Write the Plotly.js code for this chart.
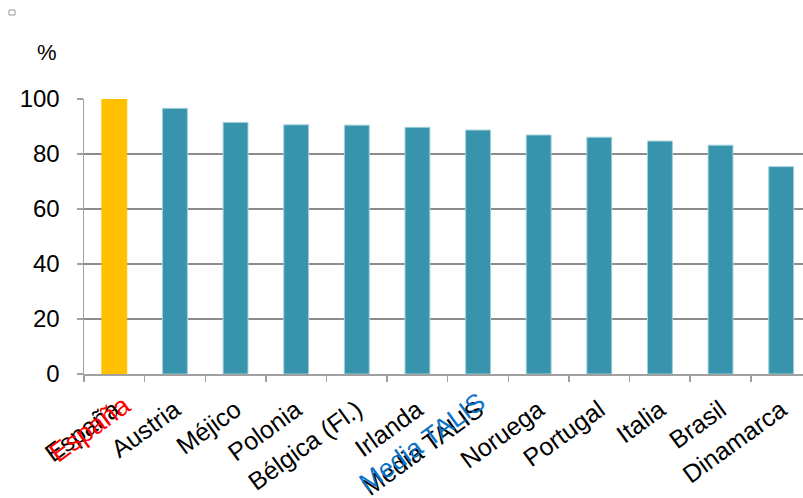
<!DOCTYPE html>
<html>
<head>
<meta charset="utf-8">
<script src="https://cdn.plot.ly/plotly-3.0.1.min.js"></script>
<style>html,body{margin:0;padding:0;background:#fff;}#chart{width:803px;height:498px;}</style>
</head>
<body>
<div id="chart"></div>
<script>
const categories = ["España", "Austria", "Méjico", "Polonia", "Bélgica (Fl.)", "Irlanda", "Media TALIS", "Noruega", "Portugal", "Italia", "Brasil", "Dinamarca"];
const values = [100, 96.6, 91.5, 90.6, 90.5, 89.7, 88.7, 86.9, 86.1, 84.7, 83.2, 75.4];
const highlight = "España";
const yTicks = [0, 20, 40, 60, 80, 100];

const L = 84, R = 803, T = 99, B = 374, W = 803, H = 498;
const px = x => (x - L) / (R - L);
const py = y => (B - y) / (B - T);

const colors = categories.map(c => c === highlight ? "#FFC000" : "#3794AC");
const lines = categories.map(c => c === highlight ? "#FFC000" : "#9FD0DC");

const trace = {
  type: "bar",
  x: categories,
  y: values,
  width: 0.41,
  marker: {color: colors, line: {color: lines, width: 1}},
  hoverinfo: "x+y"
};

const layout = {
  width: W, height: H,
  margin: {l: L, r: W - R, t: T, b: H - B, pad: 0},
  paper_bgcolor: "#fff", plot_bgcolor: "#fff",
  showlegend: false,
  font: {family: "Liberation Sans, Arial, sans-serif", size: 24, color: "#000"},
  xaxis: {
    type: "category",
    range: [-0.5, 11.36],
    showgrid: false,
    showline: true, linecolor: "#a0a0a0", linewidth: 1.5,
    ticks: "outside", tickson: "boundaries", ticklen: 6, tickcolor: "#a0a0a0", tickwidth: 1.5,
    tickangle: -36,
    ticklabelstandoff: 10,
    tickfont: {size: 25, color: "#000"},
    fixedrange: true
  },
  yaxis: {
    range: [0, 100],
    tickvals: yTicks,
    ticktext: yTicks.map(String),
    showgrid: true, gridcolor: "#8c8c8c", gridwidth: 1.5,
    showline: true, linecolor: "#a0a0a0", linewidth: 1.5,
    ticks: "outside", ticklen: 6, tickcolor: "#a0a0a0", tickwidth: 1.5,
    ticklabelstandoff: 12,
    tickfont: {size: 24, color: "#000"},
    zeroline: false,
    fixedrange: true
  },
  annotations: [
    {text: "%", xref: "paper", yref: "paper", x: px(47), y: py(52), xanchor: "center", yanchor: "middle", showarrow: false, font: {size: 22, color: "#000"}},
    {text: "España", xref: "paper", yref: "paper", x: px(90), y: py(429), xanchor: "center", yanchor: "middle", textangle: -36, showarrow: false, font: {size: 27, color: "#ff0000"}},
    {text: "Media TALIS", xref: "paper", yref: "paper", x: px(422), y: py(442), xanchor: "center", yanchor: "middle", textangle: -36, showarrow: false, font: {size: 26, color: "#0A72C8"}}
  ],
  shapes: [
    {type: "rect", xref: "paper", yref: "paper", x0: px(9), x1: px(15), y0: py(15), y1: py(10), line: {color: "#999", width: 1}, fillcolor: "#fff"}
  ]
};

Plotly.newPlot("chart", [trace], layout, {displayModeBar: false, staticPlot: true});
</script>
</body>
</html>
